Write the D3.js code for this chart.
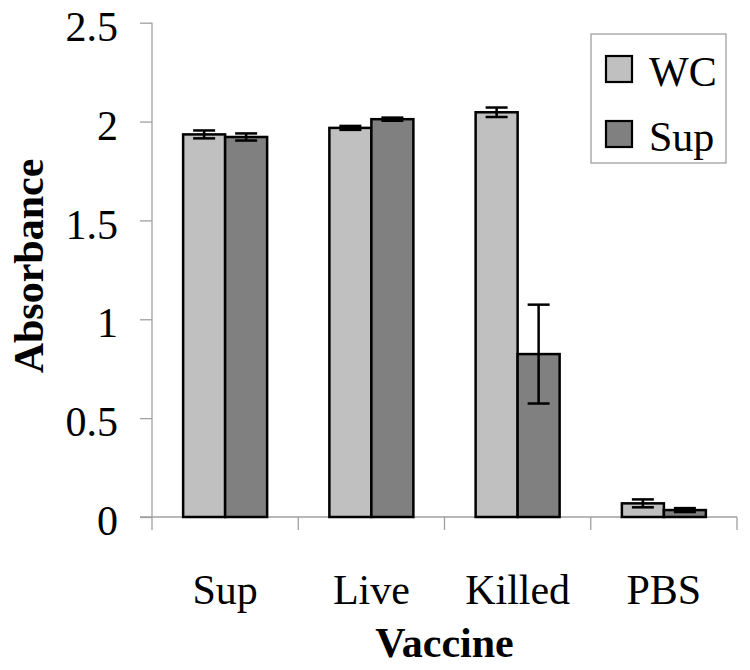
<!DOCTYPE html>
<html><head><meta charset="utf-8">
<script src="https://cdn.jsdelivr.net/npm/d3@7"></script>
<style>body{margin:0;background:#fff}svg{display:block}</style>
</head><body><svg id="c" width="750" height="670"></svg>
<script>
const categories = ["Sup", "Live", "Killed", "PBS"];
const seriesNames = ["WC", "Sup"];
const wcValues = [1.935, 1.968, 2.047, 0.069];
const wcErrors = [0.02, 0.01, 0.024, 0.02];
const supValues = [1.922, 2.012, 0.824, 0.035];
const supErrors = [0.018, 0.008, 0.25, 0.01];
const yTicks = [0, 0.5, 1, 1.5, 2, 2.5];
const colors = ["#c0c0c0", "#808080"];

const FONT = "'Liberation Serif', Tinos, 'Times New Roman', Times, 'DejaVu Serif', serif";
const svg = d3.select("#c").style("font-family", FONT);
const x0 = d3.scaleBand().domain(categories).range([152, 737]).paddingInner(0).paddingOuter(0);
const x1 = d3.scaleBand().domain(seriesNames).range([0, x0.bandwidth()]).paddingInner(0).paddingOuter(0.741);
const y = d3.scaleLinear().domain([0, 2.5]).range([517, 22.7]);

const axisColor = "#a0a0a0";
// y axis
const yAxis = svg.append("g").attr("transform", "translate(152,0)")
  .call(d3.axisLeft(y).tickValues(yTicks).tickSize(12).tickFormat(d => d3.format("")(d)).tickPadding(22));
yAxis.attr("font-family", null).style("font-family", FONT);
yAxis.select(".domain").attr("stroke", axisColor).attr("stroke-width", 1.3).attr("d", `M0,${y(2.5)}V${y(0)}`);
yAxis.selectAll(".tick line").attr("stroke", axisColor).attr("stroke-width", 1.3);
yAxis.selectAll(".tick text").attr("font-size", 42).style("font-family", FONT).attr("dy", "0.42em").attr("fill", "#000");

// x axis line and boundary ticks
const xg = svg.append("g");
xg.append("line").attr("x1", 140).attr("x2", x0.range()[1]).attr("y1", y(0)).attr("y2", y(0))
  .attr("stroke", axisColor).attr("stroke-width", 1.3);
const bounds = categories.map(c => x0(c)).concat([x0(categories[categories.length-1]) + x0.bandwidth()]);
xg.selectAll(".bt").data(bounds).enter().append("line")
  .attr("x1", d => d).attr("x2", d => d).attr("y1", y(0)).attr("y2", y(0) + 13)
  .attr("stroke", axisColor).attr("stroke-width", 1.3);
xg.selectAll(".cl").data(categories).enter().append("text")
  .attr("x", d => x0(d) + x0.bandwidth() / 2).attr("y", 604)
  .attr("text-anchor", "middle").attr("font-size", 42).style("font-family", FONT).text(d => d);

// bars
const rows = categories.map((c, i) => ({
  cat: c,
  vals: [
    { s: "WC", v: wcValues[i], e: wcErrors[i], color: colors[0] },
    { s: "Sup", v: supValues[i], e: supErrors[i], color: colors[1] }
  ]
}));
const g = svg.append("g");
const grp = g.selectAll(".grp").data(rows).enter().append("g")
  .attr("transform", d => `translate(${x0(d.cat)},0)`);
grp.selectAll("rect").data(d => d.vals).enter().append("rect")
  .attr("x", d => x1(d.s)).attr("width", x1.bandwidth())
  .attr("y", d => y(d.v)).attr("height", d => y(0) - y(d.v))
  .attr("fill", d => d.color).attr("stroke", "#000").attr("stroke-width", 2.5);
// error bars
const eb = grp.selectAll(".eb").data(d => d.vals).enter().append("g")
  .attr("transform", d => `translate(${x1(d.s) + x1.bandwidth() / 2},0)`);
eb.append("line").attr("x1", 0).attr("x2", 0).attr("y1", d => y(d.v + d.e)).attr("y2", d => y(d.v - d.e))
  .attr("stroke", "#000").attr("stroke-width", 2.5);
eb.append("line").attr("x1", -11).attr("x2", 11).attr("y1", d => y(d.v + d.e)).attr("y2", d => y(d.v + d.e))
  .attr("stroke", "#000").attr("stroke-width", 2.5);
eb.append("line").attr("x1", -11).attr("x2", 11).attr("y1", d => y(d.v - d.e)).attr("y2", d => y(d.v - d.e))
  .attr("stroke", "#000").attr("stroke-width", 2.5);

// axis titles
svg.append("text").attr("transform", "translate(43,266) rotate(-90)")
  .attr("text-anchor", "middle").attr("font-size", 42).attr("font-weight", "bold").style("font-family", FONT).text("Absorbance");
svg.append("text").attr("x", (x0.range()[0] + x0.range()[1]) / 2).attr("y", 657)
  .attr("text-anchor", "middle").attr("font-size", 42).attr("font-weight", "bold").style("font-family", FONT).text("Vaccine");

// legend
const lg = svg.append("g");
lg.append("rect").attr("x", 591).attr("y", 34).attr("width", 135).attr("height", 129)
  .attr("fill", "#fff").attr("stroke", axisColor).attr("stroke-width", 1.3);
const li = lg.selectAll(".li").data(seriesNames).enter().append("g")
  .attr("transform", (d, i) => `translate(606,${56 + i * 65})`);
li.append("rect").attr("width", 26).attr("height", 26).attr("fill", (d, i) => colors[i])
  .attr("stroke", "#000").attr("stroke-width", 2.2);
li.append("text").attr("x", 43).attr("y", 30).attr("font-size", 42).style("font-family", FONT).text(d => d);
</script>
</body></html>
